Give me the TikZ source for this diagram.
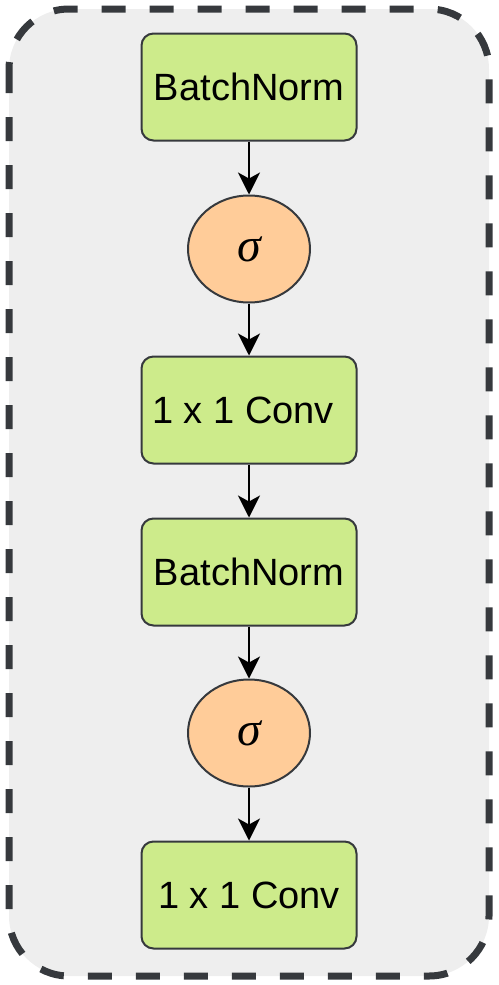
\documentclass[tikz,border=0pt]{standalone}
\usepackage{fontspec}
\setmainfont{Liberation Sans}
\newfontfamily\greekfont{Liberation Serif}
\usetikzlibrary{shapes.geometric,arrows.meta}
\definecolor{strk}{HTML}{36393D}
\definecolor{boxfill}{HTML}{CDEB8B}
\definecolor{ellfill}{HTML}{FFCC99}
\definecolor{bgfill}{HTML}{EEEEEE}
\tikzset{
  opbox/.style={draw=strk, fill=boxfill, line width=2pt, rounded corners=12pt,
    minimum width=215pt, minimum height=107pt, inner sep=0pt,
    font=\fontsize{38}{42}\selectfont},
  actnode/.style={draw=strk, fill=ellfill, line width=2pt, ellipse,
    minimum width=122pt, minimum height=107pt, inner sep=0pt,
    font=\greekfont\itshape\fontsize{48}{52}\selectfont},
  flow/.style={line width=2pt, -{Stealth[length=22pt,width=22pt,inset=6pt]}},
}
\begin{document}
\begin{tikzpicture}[x=1pt,y=-1pt]
\useasboundingbox (0,0) rectangle (498,985);
\draw[strk, fill=bgfill, line width=7pt, dash pattern=on 24pt off 24pt, rounded corners=60pt]
  (9,9) rectangle (489,976);
\node[opbox] (bn1) at (249,87) {BatchNorm};
\node[actnode] (s1) at (249,249) {σ};
\node[opbox] (c1) at (249,410) {\hspace*{-12pt}1 x 1 Conv};
\node[opbox] (bn2) at (249,572) {BatchNorm};
\node[actnode] (s2) at (249,733) {σ};
\node[opbox] (c2) at (249,895) {1 x 1 Conv};
\draw[flow] (bn1) -- (s1);
\draw[flow] (s1) -- (c1);
\draw[flow] (c1) -- (bn2);
\draw[flow] (bn2) -- (s2);
\draw[flow] (s2) -- (c2);
\end{tikzpicture}
\end{document}
